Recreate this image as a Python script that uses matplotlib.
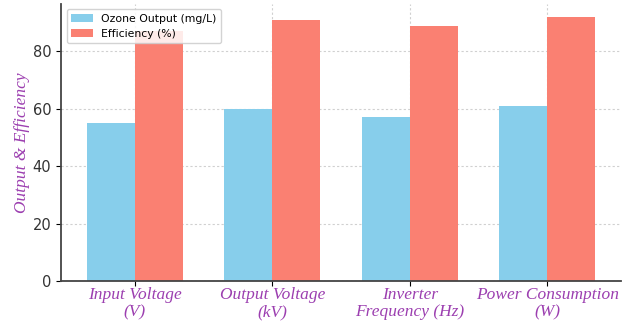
import numpy as np
import matplotlib.pyplot as plt

# Données
categorias = ["Input Voltage\n(V)", "Output Voltage\n(kV)", "Inverter\nFrequency (Hz)", "Power Consumption\n(W)"]
ozonio = [55, 60, 57, 61]
eficiencia = [87, 91, 89, 92]

# Estilo
cor_ozonio = "#87CEEB"
cor_efic = "#FA8072"
cor_texto = "#9C3FB0"
largura = 0.35

fig, ax = plt.subplots(figsize=(6.24, 3.23), dpi=100)
x = np.arange(len(categorias))

ax.bar(x - largura / 2, ozonio, largura, color=cor_ozonio, label="Ozone Output (mg/L)", zorder=2)
ax.bar(x + largura / 2, eficiencia, largura, color=cor_efic, label="Efficiency (%)", zorder=2)

ax.set_xticks(x)
ax.set_xticklabels(categorias, family="Liberation Serif", style="italic",
                   fontsize=12.5, color=cor_texto, linespacing=1.1)
ax.set_ylabel("Output & Efficiency", family="Liberation Serif", style="italic",
              fontsize=12.5, color=cor_texto, labelpad=2)
ax.set_yticks([0, 20, 40, 60, 80])
ax.tick_params(axis="y", labelsize=10.5, labelcolor="#333333")
ax.tick_params(axis="x", pad=1)

ax.grid(True, linestyle=(0, (2, 2)), color="#d0d0d0", linewidth=0.8, zorder=0)
for lado in ["top", "right"]:
    ax.spines[lado].set_visible(False)
for lado in ["left", "bottom"]:
    ax.spines[lado].set_color("#444444")
    ax.spines[lado].set_linewidth(1.3)

ax.legend(loc="upper left", fontsize=7.8, framealpha=0.85)

plt.subplots_adjust(left=0.098, right=0.995, top=0.988, bottom=0.13)
plt.savefig("out.png", dpi=100)
